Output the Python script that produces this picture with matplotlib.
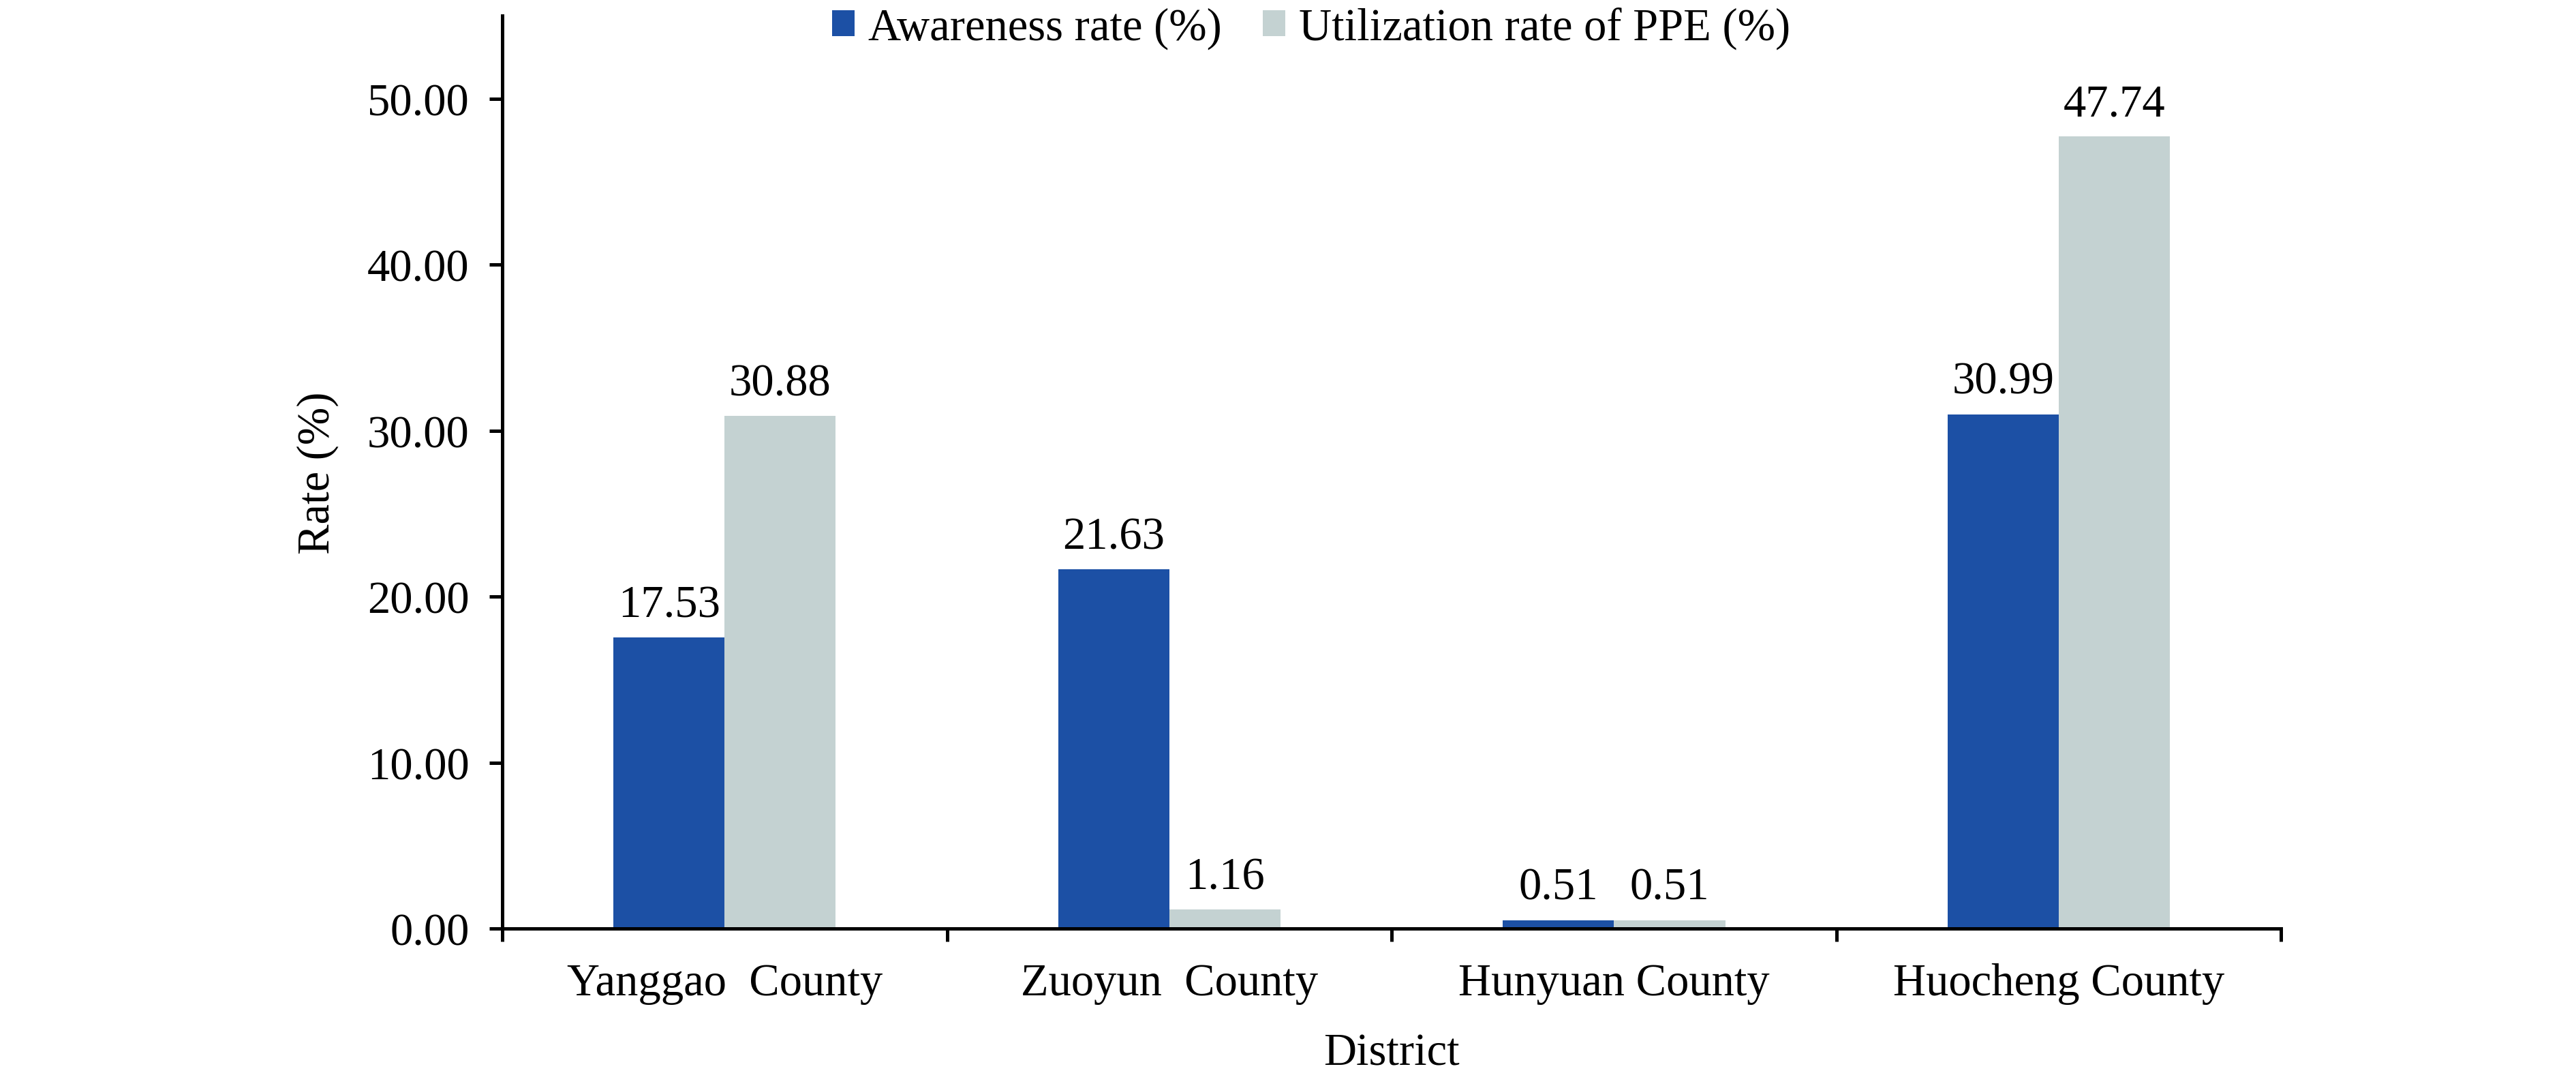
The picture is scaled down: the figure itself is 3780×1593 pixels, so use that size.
import matplotlib
matplotlib.use("Agg")
import matplotlib.pyplot as plt
import numpy as np

districts = ["Yanggao  County", "Zuoyun  County", "Hunyuan County", "Huocheng County"]
awareness = [17.53, 21.63, 0.51, 30.99]
utilization = [30.88, 1.16, 0.51, 47.74]
series_names = ["Awareness rate (%)", "Utilization rate of PPE (%)"]
y_ticks = [0, 10, 20, 30, 40, 50]

plt.rcParams["font.family"] = ["Liberation Serif", "DejaVu Serif"]
FS = 16

fig = plt.figure(figsize=(12.6, 5.3133), dpi=300)
ax = fig.add_axes([0.195, 0.1449, 0.6905, 0.8401])

x = np.arange(len(districts))
w = 0.25
b1 = ax.bar(x - w / 2, awareness, w, color="#1c50a5", label=series_names[0], zorder=2)
b2 = ax.bar(x + w / 2, utilization, w, color="#c4d2d2", label=series_names[1], zorder=2)
ax.bar_label(b1, fmt="%.2f", padding=4, fontsize=FS)
ax.bar_label(b2, fmt="%.2f", padding=4, fontsize=FS)

ax.set_xlim(-0.5, len(districts) - 0.5)
ax.set_ylim(0, 55)
ax.set_yticks(y_ticks)
ax.set_yticklabels([f"{v:.2f}" for v in y_ticks], fontsize=FS)

# boundary ticks without labels, labels at category centers
ax.set_xticks(np.arange(len(districts) + 1) - 0.5)
ax.set_xticklabels([])
ax.set_xticks(x, minor=True)
ax.set_xticklabels(districts, minor=True, fontsize=FS)
ax.tick_params(axis="x", which="minor", length=0, pad=12)
ax.tick_params(axis="both", which="major", length=4.6, width=1.2, direction="out")
ax.tick_params(axis="y", pad=7)

for s in ("top", "right"):
    ax.spines[s].set_visible(False)
for s in ("left", "bottom"):
    ax.spines[s].set_linewidth(1.2)
ax.spines["bottom"].set_zorder(3)

ax.set_ylabel("Rate (%)", fontsize=FS, labelpad=10)
ax.set_xlabel("District", fontsize=FS, labelpad=10)

fig.legend(handles=[b1, b2], loc="center", bbox_to_anchor=(0.509, 0.974), ncol=2,
           frameon=False, fontsize=FS, handlelength=0.5, handleheight=0.5,
           handletextpad=0.3, columnspacing=0.9)

fig.savefig("out.png", dpi=300)
